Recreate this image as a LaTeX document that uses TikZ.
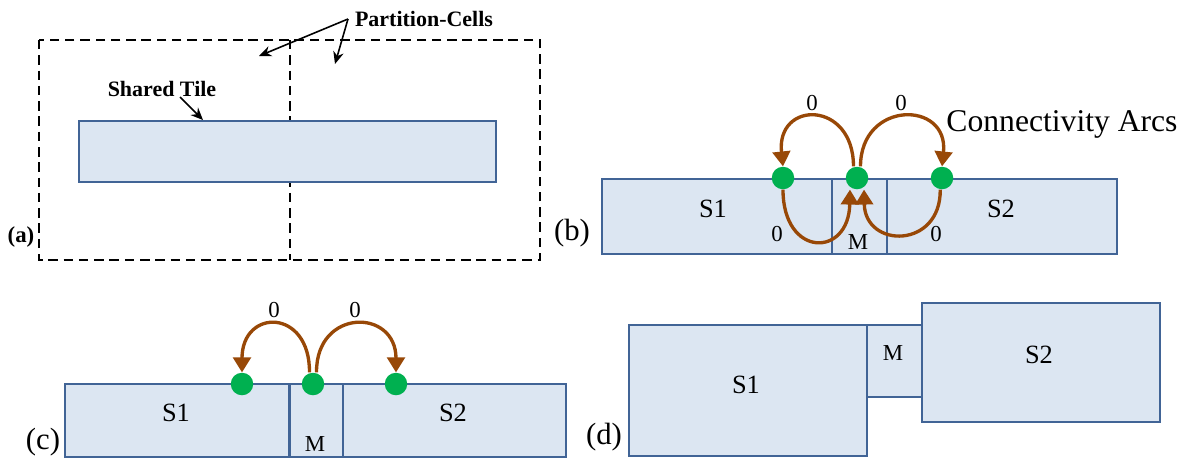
\documentclass[tikz,border=0pt]{standalone}
\usepackage{fontspec}
\setmainfont{Liberation Serif}
\usepackage{tikz}
\usetikzlibrary{positioning, arrows.meta, calc}
\definecolor{tilefill}{RGB}{220,230,242}
\definecolor{tileedge}{RGB}{65,100,150}
\definecolor{dotgreen}{RGB}{0,176,80}
\definecolor{arcbrown}{RGB}{152,72,7}

\begin{document}
\begin{tikzpicture}[
  tile/.style={draw=tileedge, line width=1.1pt, fill=tilefill, anchor=north west,
               inner sep=0pt},
  pdot/.style={circle, fill=dotgreen, minimum size=0.45cm, inner sep=0pt},
  arc/.style={draw=arcbrown, line width=1.9pt, -{Triangle[length=8.5pt,width=10pt]}},
  seg/.style={font=\fontsize{15}{17}\selectfont},
  small/.style={font=\fontsize{13}{15}\selectfont},
  weight/.style={font=\fontsize{13}{15}\selectfont},
  tag/.style={font=\fontsize{17.5}{20}\selectfont},
  boldlab/.style={font=\bfseries\fontsize{12.5}{14}\selectfont},
  cell/.style={draw, line width=1.1pt, dash pattern=on 5.4pt off 3.3pt},
  pointer/.style={-{Stealth[length=7pt,width=6pt]}, line width=0.9pt},
]
  \useasboundingbox (0,0) rectangle (23.86,-9.2);

  % (a)
  \draw[cell] (0.78,-0.80) rectangle (10.80,-5.20);
  \draw[cell] (5.80,-0.80) -- (5.80,-5.20);
  \node[tile, minimum width=8.34cm, minimum height=1.22cm] (shared) at (1.56,-2.40) {};
  \node[boldlab] (sharedlab) at (3.24,-1.78) {Shared Tile};
  \node[boldlab] (cellslab) at (8.48,-0.38) {Partition-Cells};
  \node[font=\bfseries\fontsize{13}{15}\selectfont] (taga) at (0.42,-4.74) {(a)};
  \coordinate (cellsfoot) at (6.96,-0.38);
  \coordinate (sharedfoot) at (3.60,-1.94);
  \draw[pointer] (sharedfoot) -- ($(shared.north west)+(2.50,0)$);
  \draw[pointer] (cellsfoot) -- (5.18,-1.12);
  \draw[pointer] (cellsfoot) -- (6.70,-1.28);

  % (b)
  \node[tile, minimum width=4.6cm, minimum height=1.5cm] (s1b) at (12.02,-3.56) {};
  \node[tile, minimum width=1.1cm, minimum height=1.5cm] (mb) at (16.62,-3.56) {};
  \node[tile, minimum width=4.6cm, minimum height=1.5cm] (s2b) at (17.72,-3.56) {};
  \node[seg] (s1blab) at (14.26,-4.18) {S1};
  \node[seg] (s2blab) at (20.02,-4.18) {S2};
  \node[small] (mblab) at (17.16,-4.84) {M};
  \node[tag] (tagb) at (11.44,-4.66) {(b)};
  \node[pdot] (d1b) at (15.66,-3.56) {};
  \node[pdot] (d2b) at (17.14,-3.56) {};
  \node[pdot] (d3b) at (18.84,-3.56) {};
  \draw[arc] ([xshift=-2pt]d2b.north) .. controls (17.07,-2.0) and (15.52,-2.0) .. (d1b.north);
  \draw[arc] ([xshift=2pt]d2b.north) .. controls (17.21,-2.0) and (18.98,-2.0) .. (d3b.north);
  \draw[arc] (d1b.south) .. controls (15.66,-5.16) and (16.98,-5.16) .. ([xshift=-4pt]d2b.south);
  \draw[arc] ([xshift=-1pt]d3b.south) .. controls (18.82,-4.98) and (17.30,-4.98) .. ([xshift=4pt]d2b.south);
  \node[weight] (w1b) at (16.24,-2.06) {0};
  \node[weight] (w2b) at (18.02,-2.06) {0};
  \node[weight] (w3b) at (15.54,-4.68) {0};
  \node[weight] (w4b) at (18.72,-4.68) {0};
  \node[font=\fontsize{18}{21}\selectfont] (arcslab) at (21.24,-2.48) {Connectivity Arcs};

  % (c)
  \node[tile, minimum width=4.48cm, minimum height=1.46cm] (s1c) at (1.28,-7.66) {};
  \node[tile, minimum width=1.06cm, minimum height=1.46cm] (mc) at (5.78,-7.66) {};
  \node[tile, minimum width=4.46cm, minimum height=1.46cm] (s2c) at (6.84,-7.66) {};
  \node[seg] (s1clab) at (3.52,-8.26) {S1};
  \node[seg] (s2clab) at (9.06,-8.26) {S2};
  \node[small] (mclab) at (6.30,-8.88) {M};
  \node[tag] (tagc) at (0.86,-8.84) {(c)};
  \node[pdot] (d1c) at (4.84,-7.68) {};
  \node[pdot] (d2c) at (6.26,-7.68) {};
  \node[pdot] (d3c) at (7.92,-7.68) {};
  \draw[arc] ([xshift=-2pt]d2c.north) .. controls (6.20,-6.16) and (4.84,-6.16) .. (d1c.north);
  \draw[arc] ([xshift=2pt]d2c.north) .. controls (6.32,-6.16) and (7.92,-6.16) .. (d3c.north);
  \node[weight] (w1c) at (5.48,-6.20) {0};
  \node[weight] (w2c) at (7.10,-6.20) {0};

  % (d)
  \node[tile, minimum width=4.76cm, minimum height=2.62cm] (s1d) at (12.56,-6.48) {};
  \node[tile, minimum width=1.10cm, minimum height=1.44cm] (md) at (17.32,-6.48) {};
  \node[tile, minimum width=4.76cm, minimum height=2.38cm] (s2d) at (18.42,-6.04) {};
  \node[seg] (s1dlab) at (14.92,-7.70) {S1};
  \node[small] (mdlab) at (17.86,-7.06) {M};
  \node[seg] (s2dlab) at (20.78,-7.10) {S2};
  \node[tag] (tagd) at (12.08,-8.74) {(d)};
\end{tikzpicture}
\end{document}
